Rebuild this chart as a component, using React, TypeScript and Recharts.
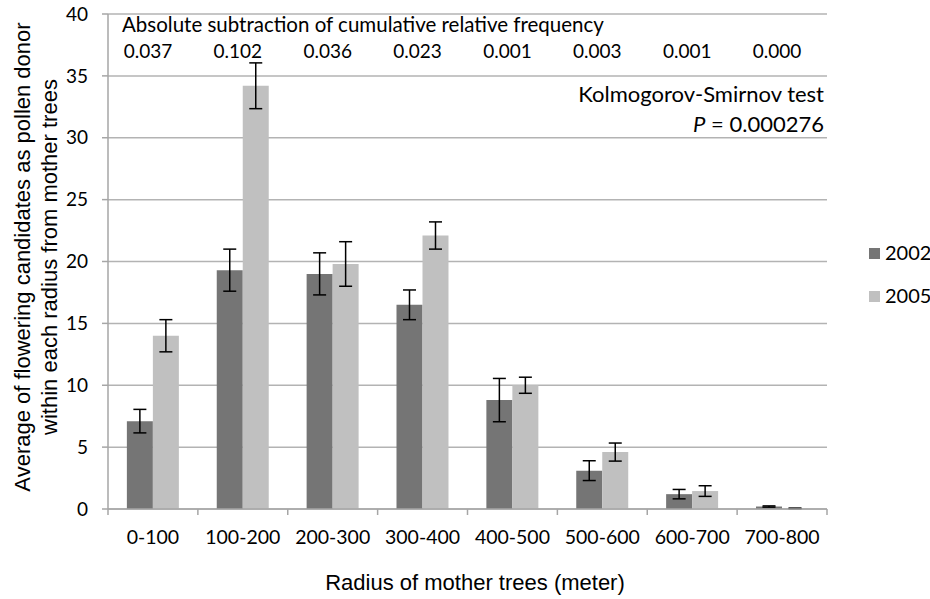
import React from "react";
import { BarChart, Bar, XAxis, YAxis, CartesianGrid, ErrorBar, Customized } from "recharts";

const categories = ["0-100", "100-200", "200-300", "300-400", "400-500", "500-600", "600-700", "700-800"];
const mean2002 = [7.1, 19.3, 19.0, 16.5, 8.8, 3.1, 1.2, 0.2];
const err2002 = [0.95, 1.7, 1.7, 1.2, 1.75, 0.8, 0.38, 0.05];
const mean2005 = [14.0, 34.2, 19.8, 22.1, 10.0, 4.6, 1.45, 0.05];
const err2005 = [1.3, 1.85, 1.8, 1.1, 0.65, 0.73, 0.43, 0.02];
const ksDiff = ["0.037", "0.102", "0.036", "0.023", "0.001", "0.003", "0.001", "0.000"];
const yTicks = [0, 5, 10, 15, 20, 25, 30, 35, 40];
const series = [
  { key: "y2002", err: "e2002", name: "2002", color: "#757575" },
  { key: "y2005", err: "e2005", name: "2005", color: "#c0c0c0" },
];

const data = categories.map((cat, i) => ({
  cat,
  y2002: mean2002[i],
  e2002: err2002[i],
  y2005: mean2005[i],
  e2005: err2005[i],
}));

const W = 930;
const H = 599;
const M = { top: 14, right: 103, bottom: 30, left: 0 };
const Y_AXIS_W = 108;
const BAND = (W - Y_AXIS_W - M.right) / categories.length;
const FONT = "Lato, 'Open Sans', sans-serif";
const ARIAL = "'Liberation Sans', Arial, sans-serif";
const AXIS_GREY = "#a6a6a6";

const BottomTick = (props: any) => {
  const { x, y, payload, index } = props;
  return (
    <g>
      <line x1={x - BAND / 2} x2={x - BAND / 2} y1={y} y2={y + 6} stroke={AXIS_GREY} strokeWidth={1.5} />
      {index === categories.length - 1 && (
        <line x1={x + BAND / 2} x2={x + BAND / 2} y1={y} y2={y + 6} stroke={AXIS_GREY} strokeWidth={1.5} />
      )}
      <text x={x} y={y + 35} textAnchor="middle" fontSize={19.5} fontFamily={FONT} fill="#000">
        {payload.value}
      </text>
      {/* K-S difference row inside the top of the plot */}
      <text x={x - 5} y={M.top + 44} textAnchor="middle" fontSize={19} fontFamily={FONT} fill="#000">
        {ksDiff[index]}
      </text>
    </g>
  );
};

const Annotations = () => (
  <g fill="#000">
    <g fontFamily={FONT}>
      <text x={122} y={32} fontSize={20.5}>Absolute subtraction of cumulative relative frequency</text>
      <text x={824} y={102} fontSize={22} textAnchor="end">Kolmogorov-Smirnov test</text>
      <text x={824} y={132} fontSize={22} textAnchor="end">
        <tspan fontStyle="italic">P</tspan> = 0.000276
      </text>
      {series.map((s, i) => (
        <g key={s.name}>
          <rect x={869} y={248 + i * 43} width={11} height={11} fill={s.color} />
          <text x={885} y={260 + i * 43} fontSize={20}>{s.name}</text>
        </g>
      ))}
    </g>
    <text x={475} y={590} fontSize={22} fontFamily={ARIAL} textAnchor="middle">Radius of mother trees (meter)</text>
    <g transform="translate(0,257) rotate(-90)" fontFamily={ARIAL} fontSize={22}>
      <text x={0} y={30} textAnchor="middle">Average of flowering candidates as pollen donor</text>
      <text x={0} y={57} textAnchor="middle">within each radius from mother trees</text>
    </g>
  </g>
);

export default function App() {
  return (
    <div style={{ position: "absolute", left: 0, top: 0, width: W, height: H, background: "#fff" }}>
      <BarChart width={W} height={H} data={data} margin={M} barGap={0} barCategoryGap="21%">
        <CartesianGrid vertical={false} stroke="#b3b3b3" strokeWidth={1.5} />
        <XAxis
          dataKey="cat"
          height={60}
          axisLine={{ stroke: AXIS_GREY, strokeWidth: 1.5 }}
          tickLine={false}
          tickSize={0}
          tickMargin={0}
          tick={<BottomTick />}
          interval={0}
        />
        <YAxis
          width={Y_AXIS_W}
          domain={[0, 40]}
          ticks={yTicks}
          interval={0}
          axisLine={{ stroke: AXIS_GREY, strokeWidth: 1.5 }}
          tickLine={{ stroke: AXIS_GREY, strokeWidth: 1.5 }}
          tickSize={6}
          tickMargin={14}
          tick={{ fill: "#000", fontSize: 19, fontFamily: FONT }}
        />
        {series.map((s) => (
          <Bar key={s.key} dataKey={s.key} name={s.name} fill={s.color} isAnimationActive={false}>
            <ErrorBar dataKey={s.err} width={6.5} stroke="#000" strokeWidth={1.5} />
          </Bar>
        ))}
        <Customized component={Annotations} />
      </BarChart>
    </div>
  );
}
